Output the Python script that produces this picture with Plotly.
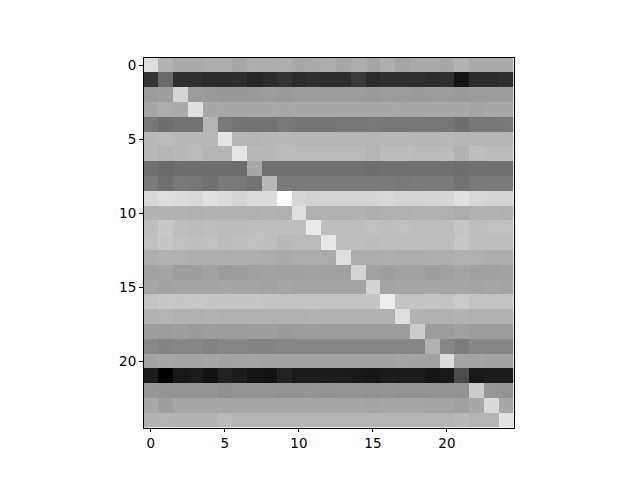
import plotly.graph_objects as go

rows = list(range(25))
cols = list(range(25))
tick_vals = [0, 5, 10, 15, 20]

# gray intensity (0 = black, 255 = white)
r00 = [221,178,170,170,172,172,168,174,172,174,168,170,172,168,172,166,174,166,170,170,168,178,170,170,170]
r01 = [52,106,48,48,44,44,46,38,44,52,44,48,46,46,58,42,48,48,48,44,48,20,44,44,48]
r02 = [156,158,212,156,154,152,152,154,156,154,156,156,156,156,156,154,156,156,154,156,156,154,156,156,156]
r03 = [166,172,170,224,168,166,166,168,168,166,168,168,168,168,168,168,168,166,166,168,168,168,164,168,168]
r04 = [120,110,114,114,180,120,116,114,114,120,116,116,116,118,118,120,118,118,118,118,118,110,118,118,120]
r05 = [184,186,184,184,184,228,182,180,182,184,182,182,182,182,182,182,184,184,182,182,184,182,182,182,182]
r06 = [184,180,184,186,180,180,230,184,184,186,186,186,186,186,186,182,188,188,186,186,188,178,190,188,188]
r07 = [112,106,110,110,110,110,110,168,112,112,112,112,112,112,112,110,112,112,112,112,112,110,112,112,112]
r08 = [122,112,120,118,112,120,120,114,184,122,122,122,122,122,122,122,122,120,122,122,122,114,122,122,122]
r09 = [216,222,220,216,224,220,214,220,220,255,214,210,212,212,212,212,216,212,212,214,214,224,216,212,212]
r10 = [178,178,178,176,178,178,178,176,178,176,224,176,176,176,178,174,176,176,178,178,176,172,178,178,176]
r11 = [190,200,190,188,190,188,188,190,190,190,190,234,190,190,190,192,190,192,190,190,190,198,190,192,192]
r12 = [192,198,192,190,192,188,190,192,190,184,186,186,232,190,190,188,190,190,190,190,190,200,190,190,190]
r13 = [174,176,176,174,174,174,174,174,172,170,172,172,170,222,172,172,174,172,172,174,174,176,176,172,172]
r14 = [162,164,158,158,162,156,158,160,162,160,160,162,160,160,212,162,158,162,162,158,160,164,160,160,162]
r15 = [166,162,164,164,164,166,164,164,162,166,164,164,164,164,164,210,164,166,166,166,166,166,164,166,164]
r16 = [196,200,198,200,198,198,198,198,196,196,196,196,196,196,196,196,236,196,196,198,196,202,196,196,196]
r17 = [178,180,176,176,178,176,176,176,176,176,176,178,176,176,176,176,176,222,178,176,176,178,176,176,176]
r18 = [158,156,158,154,156,156,156,158,158,154,156,156,156,156,156,156,156,156,204,156,156,160,156,156,156]
r19 = [136,132,134,134,130,134,134,132,132,134,134,134,134,134,134,134,134,134,134,176,134,124,134,134,134]
r20 = [162,166,164,164,166,162,164,164,162,162,162,162,162,162,162,162,162,164,162,162,220,164,164,162,162]
r21 = [28,0,24,26,18,34,28,20,18,34,26,26,28,26,24,22,28,26,26,20,24,76,24,28,28]
r22 = [150,148,148,148,148,144,148,148,148,146,146,148,146,148,148,146,148,146,146,146,146,146,202,150,148]
r23 = [168,158,166,166,166,166,166,166,166,166,166,166,166,166,166,164,166,166,166,164,164,160,168,218,168]
r24 = [178,180,178,178,178,186,180,180,180,180,180,180,180,180,180,180,180,180,180,180,180,184,180,180,226]

z = [r00, r01, r02, r03, r04, r05, r06, r07, r08, r09, r10, r11, r12,
     r13, r14, r15, r16, r17, r18, r19, r20, r21, r22, r23, r24]

fig = go.Figure(go.Heatmap(
    z=z, x=cols, y=rows,
    colorscale=[[0, "black"], [1, "white"]],
    zmin=0, zmax=255, showscale=False, hoverinfo="skip",
))

W, H = 640, 480
# page body has an 8px margin, so shift the axes box accordingly
x0, x1 = 143.5 - 8, 513.5 - 8
y0, y1 = 57.6 - 8, 427.6 - 8
axis_common = dict(
    showline=True, mirror=True, linecolor="black", linewidth=1,
    ticks="outside", ticklen=3.5, tickwidth=0.8, tickcolor="black",
    showgrid=False, zeroline=False,
    tickfont=dict(family="DejaVu Sans", size=13.5, color="black"),
    tickmode="array", tickvals=tick_vals, ticktext=[str(v) for v in tick_vals],
)
fig.update_layout(
    width=W, height=H,
    margin=dict(l=0, r=0, t=0, b=0),
    paper_bgcolor="white", plot_bgcolor="white",
    xaxis=dict(domain=[x0 / W, x1 / W], range=[-0.5, 24.5], **axis_common),
    yaxis=dict(domain=[1 - y1 / H, 1 - y0 / H], range=[24.5, -0.5], **axis_common),
)
fig.write_html("out.html")
